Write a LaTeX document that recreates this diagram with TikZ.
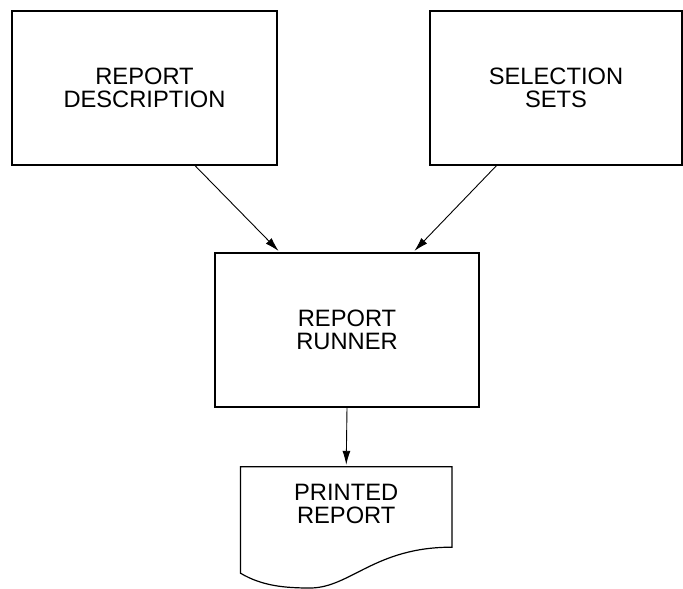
\documentclass[tikz,border=0pt]{standalone}
\usepackage{fontspec}
\setmainfont{Liberation Sans}
\usetikzlibrary{arrows.meta}

\begin{document}
\begin{tikzpicture}[
  x=1pt, y=1pt,
  >={Latex[length=14pt,width=8pt]},
  font=\fontsize{23.7}{22.7}\selectfont,
  text centered,
  every node/.style={align=center, inner sep=0},
  block/.style={
    draw,
    line width=1.2pt,
    minimum height=154pt
  },
  flow/.style={->, line width=0.9pt, shorten >=2pt}
  ]

  \useasboundingbox (0,0) rectangle (683,-589);

  \node [block, minimum width=265pt] (desc) at (144.5,-88) {REPORT\\DESCRIPTION};
  \node [block, minimum width=252pt] (sets) at (556,-88) {SELECTION\\SETS};
  \node [block, minimum width=264pt] (runner) at (347,-330) {REPORT\\RUNNER};

  \node [minimum width=211pt, minimum height=74pt] (doc) at (346.2,-504) {PRINTED\\REPORT};
  % printed page with wavy lower edge
  \draw [line width=1.2pt] ([yshift=-32pt]doc.south west) -- (doc.north west) -- (doc.north east)
    -- ([yshift=-6pt]doc.south east)
    .. controls (375,-547) and (350,-588) .. (310,-588)
    .. controls (285,-588) and (262,-586) .. ([yshift=-32pt]doc.south west) -- cycle;

  \path[flow] ([xshift=50.5pt]desc.south) edge ([xshift=-67pt]runner.north);
  \path[flow] ([xshift=-59.5pt]sets.south) edge ([xshift=66pt]runner.north);
  \path[flow] (runner.south) edge (doc.north);

\end{tikzpicture}
\end{document}
